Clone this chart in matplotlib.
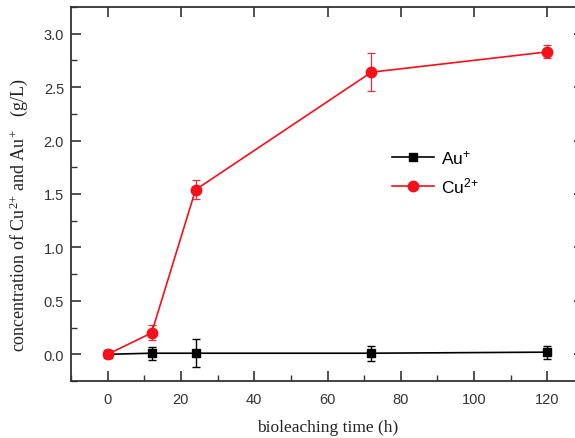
import numpy as np
import matplotlib.pyplot as plt
from matplotlib.ticker import MultipleLocator
from matplotlib.lines import Line2D

plt.rcParams['mathtext.default'] = 'regular'

# Data
time_h = [0, 12, 24, 72, 120]
au_conc = [0.0, 0.01, 0.01, 0.01, 0.02]
au_err = [0.0, 0.06, 0.13, 0.07, 0.06]
cu_conc = [0.0, 0.20, 1.54, 2.64, 2.83]
cu_err = [0.0, 0.07, 0.09, 0.18, 0.06]

OUT = 'out.png'


def main():
    fig = plt.figure(figsize=(5.75, 4.39), dpi=100)
    ax = fig.add_axes([71 / 575, 57 / 439, 513 / 575, 374 / 439])

    ax.errorbar(time_h, au_conc, yerr=au_err, color='black', marker='s',
                markersize=6, linewidth=1.2, elinewidth=1.0, capsize=3,
                capthick=1.0, zorder=2)
    ax.errorbar(time_h, cu_conc, yerr=cu_err, color='#f5101a', marker='o',
                markersize=7.5, linewidth=1.2, elinewidth=0.9, capsize=3,
                capthick=0.9, ecolor='#e8303a', zorder=3)

    ax.set_xlim(-10, 130)
    ax.set_ylim(-0.25, 3.25)
    ax.xaxis.set_major_locator(MultipleLocator(20))
    ax.xaxis.set_minor_locator(MultipleLocator(10))
    ax.yaxis.set_major_locator(MultipleLocator(0.5))
    ax.yaxis.set_minor_locator(MultipleLocator(0.25))
    ax.yaxis.set_major_formatter(plt.FormatStrFormatter('%.1f'))

    ax.tick_params(which='both', direction='in', top=True, right=True,
                   colors='#333333', labelsize=10.5)
    ax.tick_params(which='major', length=7, width=1.2)
    ax.tick_params(which='minor', length=4, width=1.0, top=False, right=False)
    for lab in ax.get_xticklabels() + ax.get_yticklabels():
        lab.set_family('Liberation Sans')
    ax.tick_params(axis='x', pad=8)
    ax.tick_params(axis='y', pad=5)
    for sp in ax.spines.values():
        sp.set_linewidth(1.3)
        sp.set_color('#333333')

    ax.set_xlabel('bioleaching time (h)', family='Liberation Serif',
                  fontsize=12.5, color='#222222', labelpad=9)
    ax.set_ylabel('concentration of Cu$^{2{+}}$ and Au$^{+}$   (g/L)',
                  family='Liberation Serif', fontsize=13, color='#222222')
    ax.yaxis.set_label_coords(-0.08, 0.445)

    handles = [
        Line2D([], [], color='black', marker='s', markersize=6, linewidth=1.2),
        Line2D([], [], color='#f5101a', marker='o', markersize=7.5, linewidth=1.2),
    ]
    ax.legend(handles, ['Au$^{+}$', 'Cu$^{2{+}}$'], loc='center left',
              bbox_to_anchor=(0.626, 0.56), frameon=False, borderpad=0,
              borderaxespad=0, prop={'family': 'Liberation Sans', 'size': 12.5},
              handlelength=2.4, labelspacing=0.55, handletextpad=0.4)

    fig.savefig(OUT, dpi=100)
    plt.close(fig)


if __name__ == '__main__':
    main()
